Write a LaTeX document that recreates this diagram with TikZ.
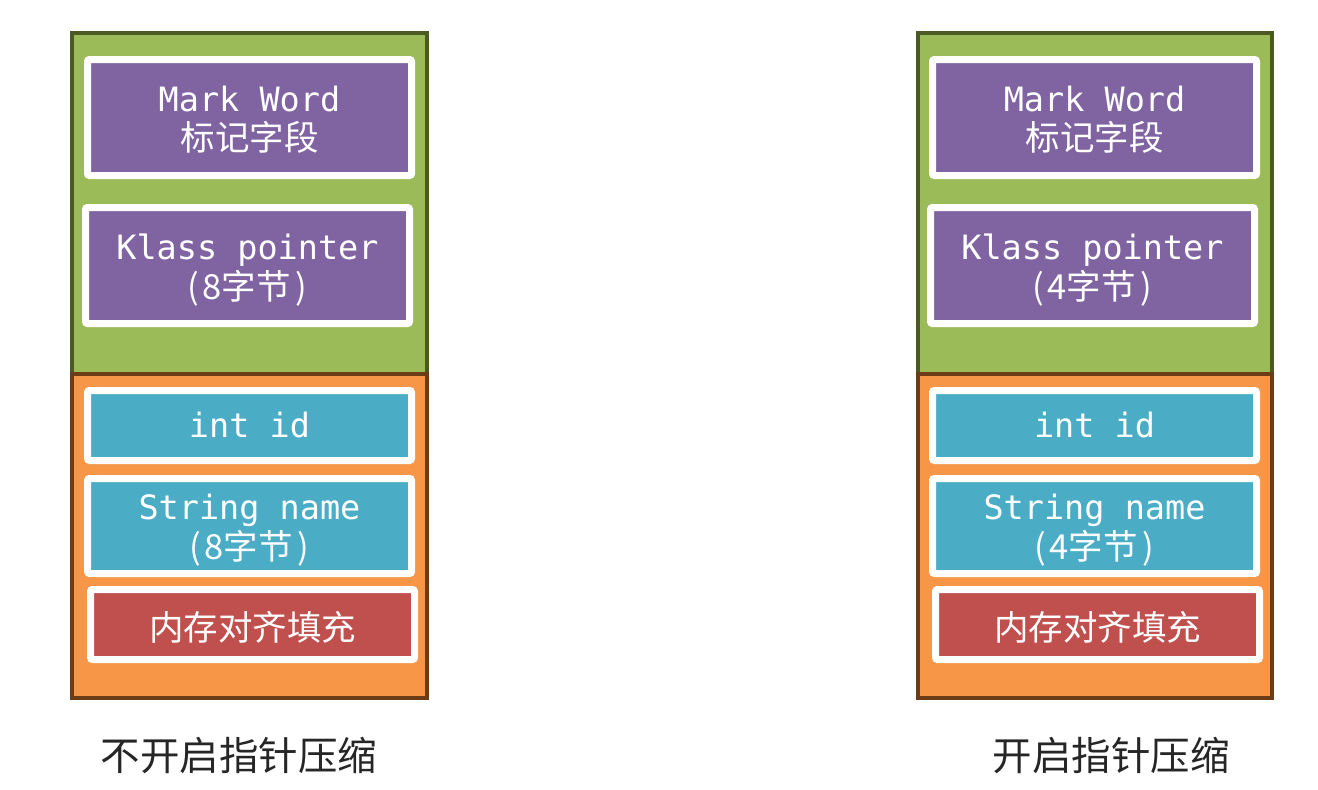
\documentclass[tikz,border=0pt]{standalone}
\usepackage{fontspec}
\setmonofont{DejaVu Sans Mono}
\newfontfamily\cjk{Noto Sans CJK SC}
\usetikzlibrary{shadows}
\definecolor{grnfill}{HTML}{9BBB59}
\definecolor{grnline}{HTML}{4A5A22}
\definecolor{orgfill}{HTML}{F79646}
\definecolor{orgline}{HTML}{6B3C16}
\definecolor{purp}{HTML}{8064A2}
\definecolor{cyanb}{HTML}{4BACC6}
\definecolor{redb}{HTML}{C0504D}
\definecolor{lbl}{HTML}{262626}
\tikzset{
  x=1pt, y=-1pt,
  field/.style={draw=white, line width=7pt, rounded corners=2pt,
    minimum width=324pt, inner sep=0pt,
    drop shadow={shadow xshift=1pt, shadow yshift=-2.5pt, opacity=0.35, fill=black!70}},
  purpbox/.style={field, fill=purp, minimum height=116pt},
  intbox/.style={field, fill=cyanb, minimum height=70pt},
  strbox/.style={field, fill=cyanb, minimum height=95pt},
  padbox/.style={field, fill=redb, minimum height=70pt},
  header/.style={fill=grnfill, draw=grnline, line width=4pt},
  body/.style={fill=orgfill, draw=orgline, line width=4pt},
  monotxt/.style={text=white, inner sep=0pt, anchor=base, font=\ttfamily\fontsize{33.5}{40}\selectfont},
  zhtxt/.style={text=white, inner sep=0pt, anchor=base, font=\cjk\fontsize{34.5}{40}\selectfont},
  caption/.style={text=lbl, font=\cjk\fontsize{39.5}{45}\selectfont, inner sep=0pt}
}
\newcommand{\bytes}[1]{(\hspace{3pt}#1字节\hspace{5pt})}
\begin{document}
\begin{tikzpicture}
\useasboundingbox (0,0) rectangle (1318,790);
\fill[white] (0,0) rectangle (1318,790);
% ===== left column =====
\draw[header] (72,33) rectangle (427,375);
\draw[body] (72,374) rectangle (427,698);
\node[purpbox] (lmark) at (249.5,117.5) {};
\node[purpbox] (lklass) at (247.5,265.5) {};
\node[intbox] (lint) at (249.5,425.5) {};
\node[strbox] (lstr) at (249.5,526) {};
\node[padbox] (lpad) at (252.5,624.5) {};
\node[monotxt] (lmark1) at ([yshift=6.5pt]lmark.center) {Mark Word};
\node[zhtxt] (lmark2) at ([yshift=-33pt]lmark.center) {标记字段};
\node[monotxt] (lklass1) at ([yshift=6.5pt]lklass.center) {Klass pointer};
\node[zhtxt] (lklass2) at ([yshift=-33.5pt]lklass.center) {\bytes{8}};
\node[monotxt] (lint1) at ([yshift=-12pt]lint.center) {int id};
\node[monotxt] (lstr1) at ([yshift=6.5pt]lstr.center) {String name};
\node[zhtxt] (lstr2) at ([yshift=-33.5pt]lstr.center) {\bytes{8}};
\node[zhtxt, anchor=center] (lpad1) at ([yshift=-3pt]lpad.center) {内存对齐填充};
\node[caption] (lcap) at (239,756) {不开启指针压缩};
% ===== right column =====
\draw[header] (918,33) rectangle (1272,375);
\draw[body] (918,374) rectangle (1272,698);
\node[purpbox] (rmark) at (1094.5,117.5) {};
\node[purpbox] (rklass) at (1092.5,265.5) {};
\node[intbox] (rint) at (1094.5,425.5) {};
\node[strbox] (rstr) at (1094.5,526) {};
\node[padbox] (rpad) at (1097.5,624.5) {};
\node[monotxt] (rmark1) at ([yshift=6.5pt]rmark.center) {Mark Word};
\node[zhtxt] (rmark2) at ([yshift=-33pt]rmark.center) {标记字段};
\node[monotxt] (rklass1) at ([yshift=6.5pt]rklass.center) {Klass pointer};
\node[zhtxt] (rklass2) at ([yshift=-33.5pt]rklass.center) {\bytes{4}};
\node[monotxt] (rint1) at ([yshift=-12pt]rint.center) {int id};
\node[monotxt] (rstr1) at ([yshift=6.5pt]rstr.center) {String name};
\node[zhtxt] (rstr2) at ([yshift=-33.5pt]rstr.center) {\bytes{4}};
\node[zhtxt, anchor=center] (rpad1) at ([yshift=-3pt]rpad.center) {内存对齐填充};
\node[caption] (rcap) at (1111,756) {开启指针压缩};
\end{tikzpicture}
\end{document}
